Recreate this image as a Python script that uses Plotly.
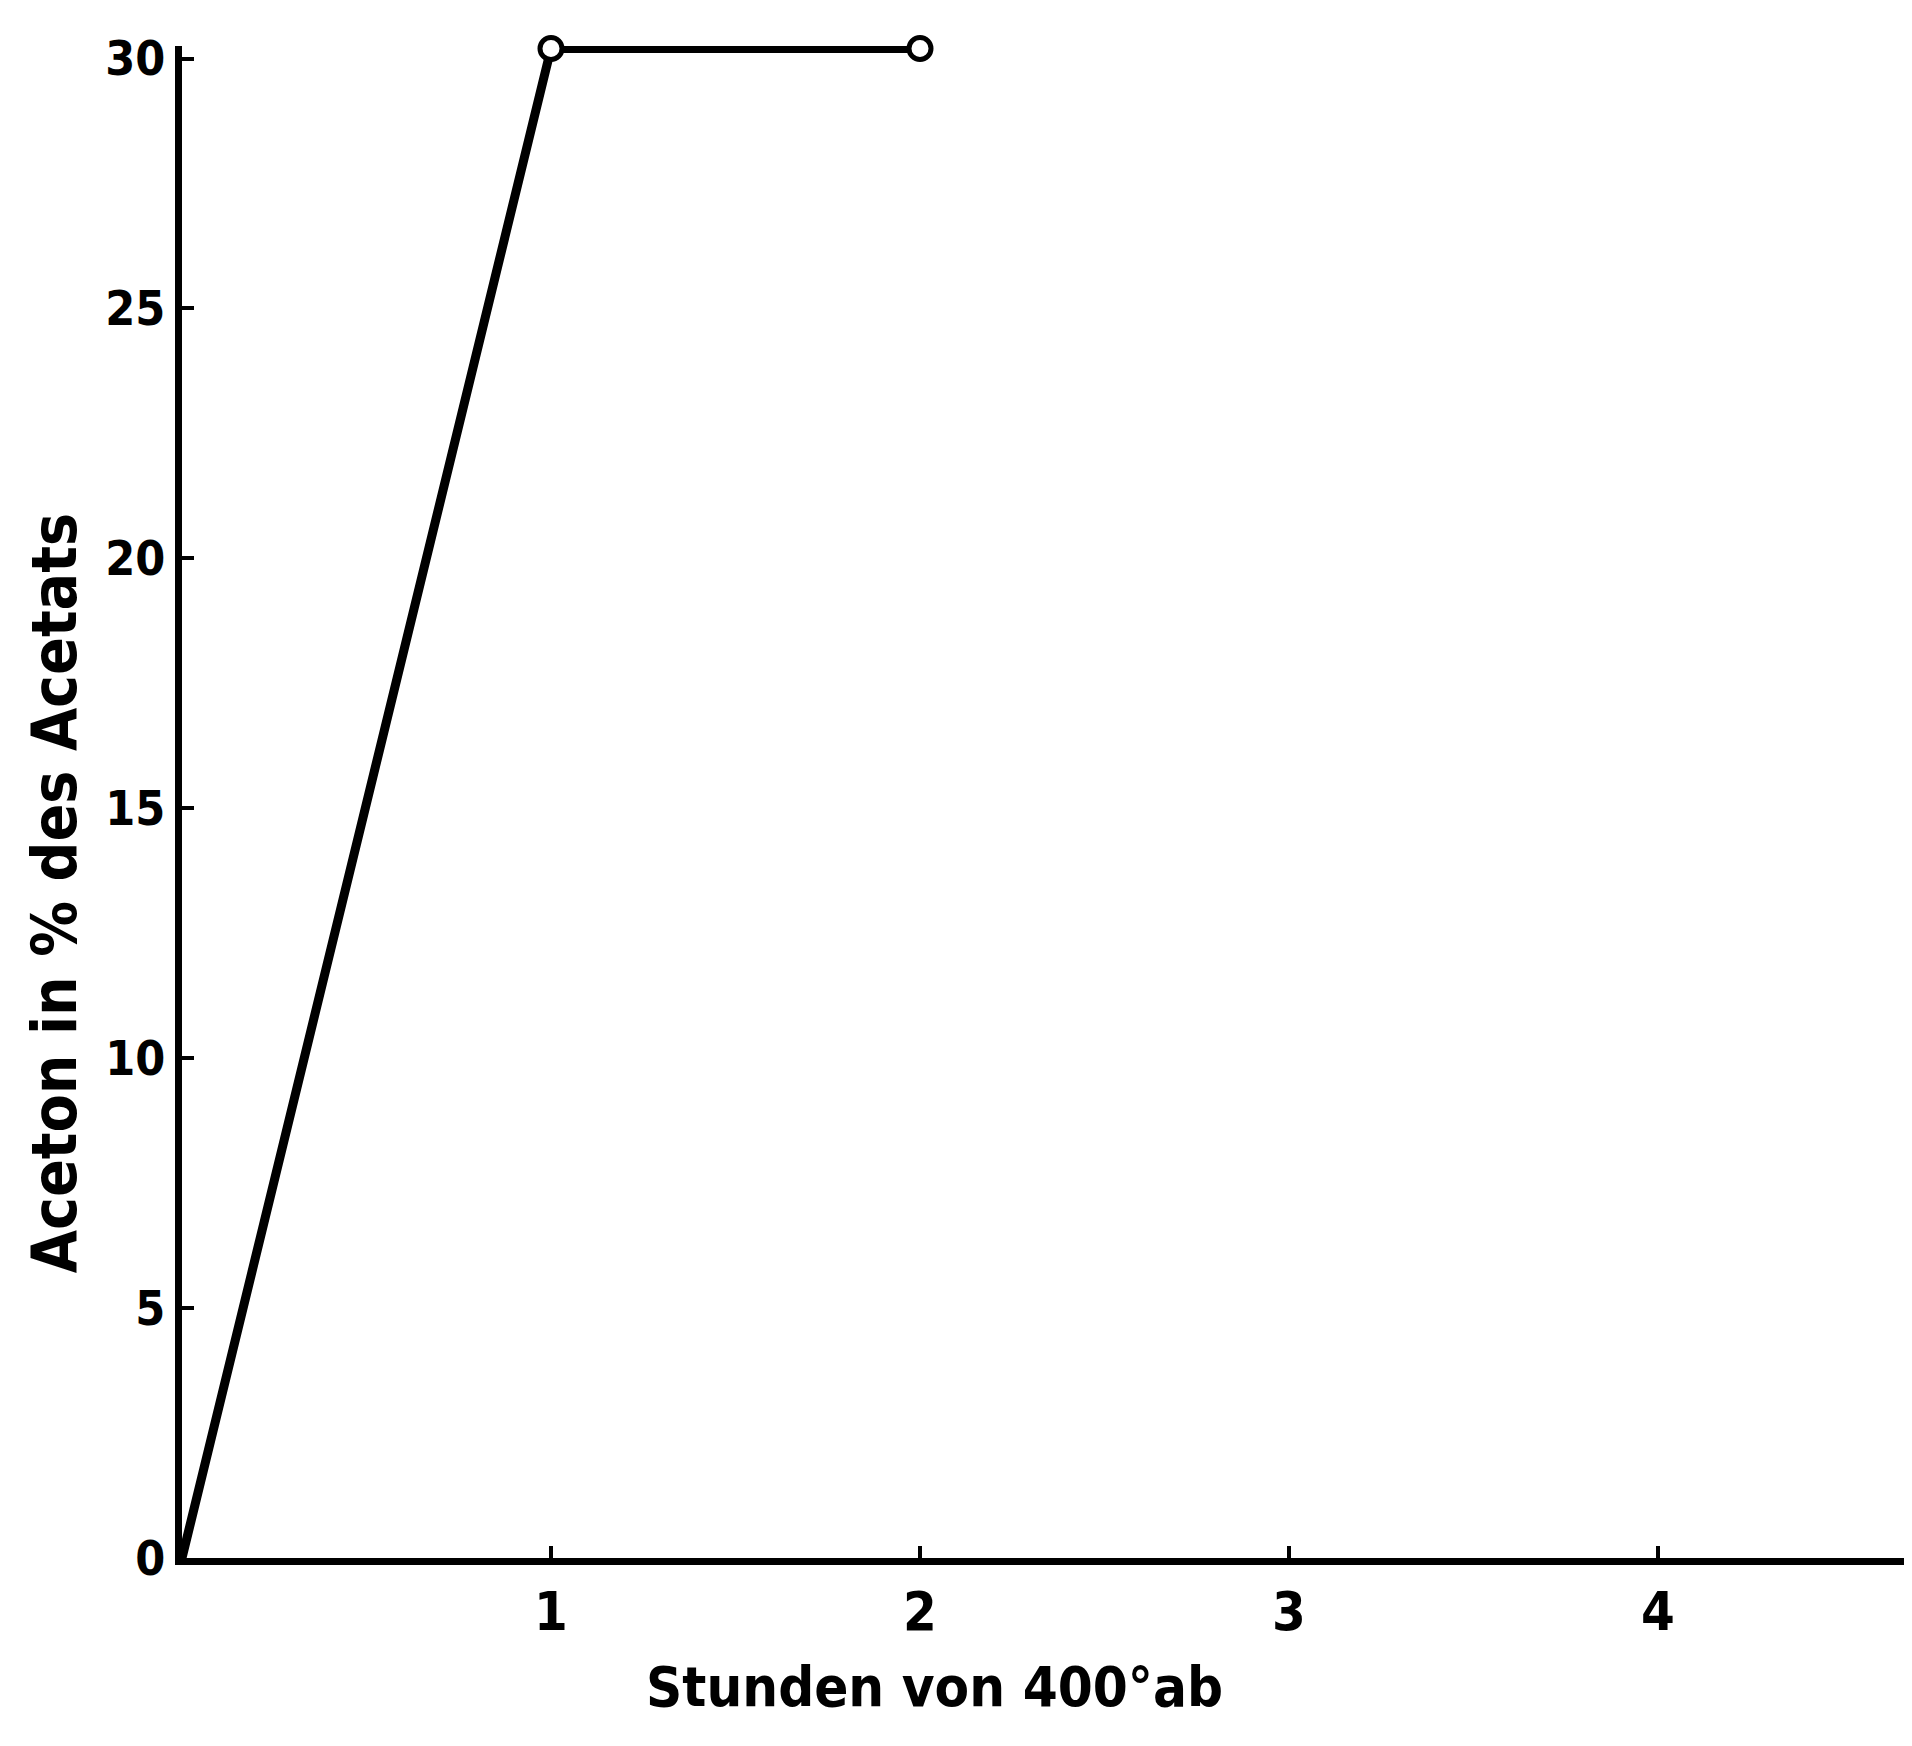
import plotly.graph_objects as go

# Data
hours = [0, 1, 2]
aceton_pct = [0, 30.2, 30.2]

x_ticks = [1, 2, 3, 4]
x_tick_labels = ["1", "2", "3", "4"]
y_ticks = [0, 5, 10, 15, 20, 25, 30]
y_tick_labels = ["0", "5", "10", "15", "20", "25", "30"]

x_title = "Stunden von 400°ab"
y_title = "Aceton in % des Acetats"

FONT = "Liberation Sans Narrow, DejaVu Sans Condensed, Roboto Condensed, Arial Narrow, sans-serif"

fig = go.Figure()
fig.add_trace(go.Scatter(
    x=hours, y=aceton_pct, mode="lines",
    line=dict(color="black", width=9),
    showlegend=False, hoverinfo="skip", cliponaxis=False,
))
fig.add_trace(go.Scatter(
    x=hours[1:], y=aceton_pct[1:], mode="markers",
    marker=dict(symbol="circle", size=22, color="white",
                line=dict(color="black", width=5)),
    showlegend=False, hoverinfo="skip", cliponaxis=False,
))

fig.add_annotation(
    text=x_title, x=2, xref="x", xshift=14, y=0, yref="paper",
    yshift=-128, xanchor="center", yanchor="middle", showarrow=False,
    font=dict(family=FONT, size=56, weight="bold", color="black"),
)
fig.add_annotation(
    text=y_title, x=0, xref="paper", xshift=-128, y=13.3, yref="y",
    textangle=-90, xanchor="center", yanchor="middle", showarrow=False,
    font=dict(family=FONT, size=62, weight="bold", color="black"),
)

fig.update_layout(
    width=1912, height=1746,
    margin=dict(l=174, r=0, t=38, b=196),
    paper_bgcolor="white", plot_bgcolor="white",
    font=dict(family=FONT, color="black", size=48),
    xaxis=dict(
        range=[0, 4.71], showgrid=False, zeroline=False,
        showline=True, linecolor="black", linewidth=7,
        tickmode="array", tickvals=x_ticks, ticktext=x_tick_labels,
        ticks="inside", ticklen=12, tickwidth=4, tickcolor="black",
        tickfont=dict(family=FONT, size=54, weight="bold"),
    ),
    yaxis=dict(
        range=[0, 30.25], showgrid=False, zeroline=False,
        showline=True, linecolor="black", linewidth=7,
        tickmode="array", tickvals=y_ticks, ticktext=y_tick_labels,
        ticks="inside", ticklen=12, tickwidth=4, tickcolor="black",
        tickfont=dict(family=FONT, size=48, weight="bold"),
    ),
)

fig.write_html("out.html")
